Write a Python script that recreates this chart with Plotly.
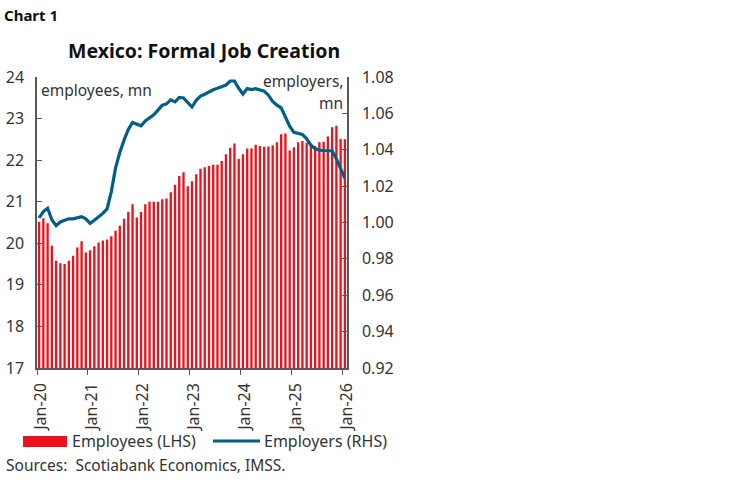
import pandas as pd
import plotly.graph_objects as go

months = pd.date_range("2020-01-01", periods=73, freq="MS")
month_labels = [d.strftime("%b-%y") for d in months]

employees = [
    20.52, 20.60, 20.48, 19.94, 19.58, 19.52, 19.50, 19.58, 19.70, 19.90, 20.05, 19.78,
    19.83, 19.93, 20.02, 20.07, 20.09, 20.17, 20.30, 20.42, 20.59, 20.76, 20.94, 20.62,
    20.75, 20.94, 21.00, 21.00, 21.00, 21.06, 21.08, 21.23, 21.41, 21.62, 21.71, 21.37,
    21.49, 21.66, 21.79, 21.83, 21.86, 21.89, 21.89, 21.98, 22.14, 22.30, 22.40, 22.03,
    22.14, 22.28, 22.28, 22.37, 22.34, 22.32, 22.33, 22.36, 22.43, 22.62, 22.64, 22.23,
    22.31, 22.43, 22.46, 22.42, 22.37, 22.34, 22.43, 22.44, 22.57, 22.79, 22.83, 22.51,
    22.50,
]

employers = [
    1.0025, 1.0060, 1.0078, 1.0015, 0.9983, 1.0003, 1.0012, 1.0020, 1.0020, 1.0025, 1.0032, 1.0020,
    0.9995, 1.0012, 1.0030, 1.0050, 1.0075, 1.0170, 1.0300, 1.0385, 1.0453, 1.0512, 1.0550, 1.0540,
    1.0532, 1.0558, 1.0577, 1.0592, 1.0618, 1.0645, 1.0652, 1.0674, 1.0663, 1.0688, 1.0685, 1.0662,
    1.0635, 1.0672, 1.0695, 1.0705, 1.0720, 1.0730, 1.0738, 1.0746, 1.0756, 1.0778, 1.0778, 1.0738,
    1.0706, 1.0736, 1.0731, 1.0736, 1.0730, 1.0722, 1.0700, 1.0665, 1.0645, 1.0630, 1.0580, 1.0530,
    1.0496, 1.0492, 1.0484, 1.0460, 1.0425, 1.0405, 1.0398, 1.0396, 1.0396, 1.0394, 1.0350, 1.0300,
    1.0243,
]

x_idx = list(range(len(months)))
tick_vals = [i - 0.5 for i, d in enumerate(months) if d.month == 1]
tick_text = [month_labels[i] for i, d in enumerate(months) if d.month == 1]

RED = "#ec111a"
BLUE = "#005f86"
FONT = "Noto Sans"
TXT = "#333333"
AX = "#595959"

W, H = 748, 483
L, R, T, B = 37, 347, 77, 368  # plot area edges in pixels

fig = go.Figure()
fig.add_trace(go.Bar(x=x_idx, y=employees, marker=dict(color=RED, line=dict(width=0)),
                     name="Employees (LHS)", showlegend=False, yaxis="y"))
fig.add_trace(go.Scatter(x=x_idx, y=employers, mode="lines", line=dict(color=BLUE, width=3.2),
                         name="Employers (RHS)", showlegend=False, yaxis="y2"))

fig.update_layout(
    width=W, height=H,
    margin=dict(l=L, r=W - R, t=T, b=H - B, autoexpand=False),
    paper_bgcolor="white", plot_bgcolor="white",
    font=dict(family=FONT, size=15, color=TXT),
    bargap=0.45,
    xaxis=dict(range=[-0.5, len(months) - 0.5], tickvals=tick_vals, ticktext=tick_text,
               tickangle=-90, ticks="outside", ticklen=5, tickcolor=AX, automargin=False,
               showline=True, linecolor=AX, linewidth=1.5, showgrid=False, zeroline=False,
               ticklabelshift=4, ticklabelstandoff=2, tickfont=dict(size=16, color=TXT)),
    yaxis=dict(range=[17, 24], dtick=1, ticks="inside", ticklen=5, tickcolor=AX, automargin=False,
               showline=True, linecolor=AX, linewidth=1.5, showgrid=False, zeroline=False,
               ticklabelstandoff=8, tickfont=dict(size=16, color=TXT)),
    yaxis2=dict(range=[0.92, 1.08], dtick=0.02, tickformat=".2f", overlaying="y", side="right",
                ticks="inside", ticklen=5, tickcolor=AX, automargin=False,
                showline=True, linecolor=AX, linewidth=1.5, showgrid=False, zeroline=False,
                ticklabelstandoff=10, tickfont=dict(size=16, color=TXT)),
    showlegend=False,
)


def px_x(v):
    return (v - L) / (R - L)


def px_y(v):
    return (B - v) / (B - T)


ann = [
    dict(text="<b>Chart 1</b>", x=2, y=15, font=dict(size=15, color="#111111")),
    dict(text="<b>Mexico: Formal Job Creation</b>", x=66, y=50, font=dict(size=19.5, color="#111111")),
    dict(text="employees, mn", x=39, y=90, font=dict(size=15.5, color=TXT)),
    dict(text="Employees (LHS)", x=70, y=441, font=dict(size=16, color=TXT)),
    dict(text="Employers (RHS)", x=262, y=441, font=dict(size=16, color=TXT)),
    dict(text="Sources:  Scotiabank Economics, IMSS.", x=4, y=465, font=dict(size=15.5, color=TXT)),
]
for a in ann:
    fig.add_annotation(text=a["text"], xref="paper", yref="paper",
                       x=px_x(a["x"]), y=px_y(a["y"]),
                       xanchor="left", yanchor="middle", showarrow=False, font=a["font"])
for t, yy in [("employers,", 81), ("mn", 103)]:
    fig.add_annotation(text=t, xref="paper", yref="paper",
                       x=px_x(345), y=px_y(yy),
                       xanchor="right", yanchor="middle", showarrow=False,
                       font=dict(size=15.5, color=TXT))

fig.add_shape(type="rect", xref="paper", yref="paper",
              x0=px_x(23), x1=px_x(67), y0=px_y(447), y1=px_y(436),
              fillcolor=RED, line=dict(width=0))
fig.add_shape(type="line", xref="paper", yref="paper",
              x0=px_x(213), x1=px_x(260), y0=px_y(441), y1=px_y(441),
              line=dict(color=BLUE, width=3.2))

fig.write_html("out.html", config={"displayModeBar": False},
               post_script="document.body.style.margin='0';")
